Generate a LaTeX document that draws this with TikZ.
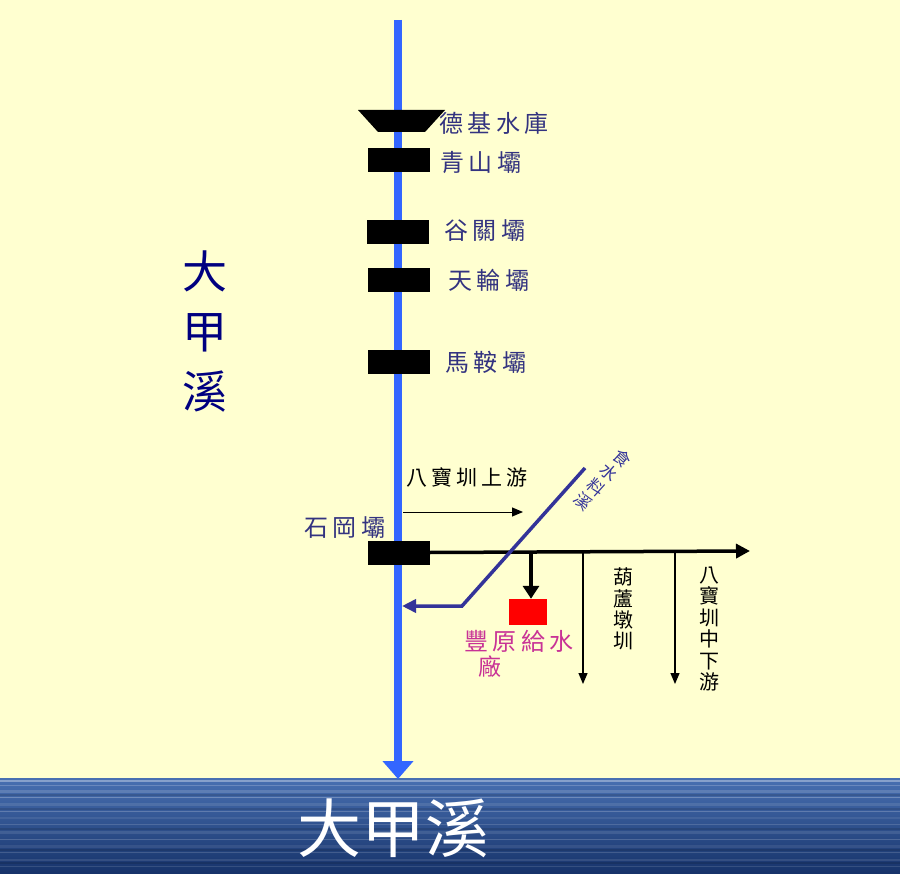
\documentclass[tikz,border=0pt]{standalone}
\usepackage{fontspec}
\newfontfamily\cjk[LetterSpace=18]{Noto Sans CJK TC}
\newfontfamily\cjkplain{Noto Sans CJK TC}
\usetikzlibrary{arrows.meta}
\definecolor{paper}{RGB}{255,255,208}
\definecolor{riverblue}{RGB}{51,102,255}
\definecolor{navy}{RGB}{51,51,128}
\definecolor{deepnavy}{RGB}{0,0,128}
\definecolor{creekblue}{RGB}{51,51,153}
\definecolor{plantpink}{RGB}{200,50,150}
\definecolor{seatop}{RGB}{72,112,178}
\definecolor{seabot}{RGB}{22,50,105}
\begin{document}
\begin{tikzpicture}[x=1pt,y=-1pt,
    dam/.style={fill=black, minimum width=62pt, minimum height=24pt, inner sep=0pt},
    damlabel/.style={text=navy, font=\cjk\fontsize{24}{24}\selectfont, inner sep=0pt},
    canallabel/.style={text=black, font=\cjk\fontsize{21}{21}\selectfont, inner sep=0pt},
    stacklabel/.style={text=black, align=center, inner sep=0pt, font=\cjkplain\fontsize{20}{21.4}\selectfont},
    canal/.style={line width=1.3pt, -{Triangle[length=11pt,width=9pt]}}]
    % background and sea
    \useasboundingbox (0,0) rectangle (900,874);
    \fill[paper] (0,0) rectangle (900,874);
    \shade[top color=seatop, bottom color=seabot] (0,778) rectangle (900,874);
    \foreach \y/\h/\o in {780/2/0.35,785/1/0.2,790/2.5/0.15,797/1/0.25,803/3/0.1,811/1.2/0.2,817/2/0.08,824/1/0.15,831/2.5/0.1,839/1/0.18,845/3/0.08,852/1.2/0.15,859/2/0.1,866/1/0.12}
        \fill[white, opacity=\o] (0,\y) rectangle (900,\y+\h);
    \foreach \y/\h in {794/2,808/1.5,828/2,849/1.5,862/2}
        \fill[black, opacity=0.12] (0,\y) rectangle (900,\y+\h);

    % main river
    \coordinate (source) at (398,20);
    \coordinate (mouth) at (398,779);
    \draw[riverblue, line width=8pt, -{Triangle[length=18pt,width=30pt]}] (source) -- (mouth);

    % reservoir and dams
    \fill (358,110) -- (445,110) -- (425,132) -- (378,132) -- cycle;
    \coordinate (deji) at (401,121);
    \node[dam] (qingshan) at (399,160) {};
    \node[dam] (guguan) at (398,232.5) {};
    \node[dam] (tianlun) at (399,280) {};
    \node[dam] (maan) at (399,362.5) {};
    \node[dam] (shigang) at (399,552.5) {};

    \node[damlabel] (dejilabel) at (494,123) {德基水庫};
    \node[damlabel] (qingshanlabel) at (481,163) {青山壩};
    \node[damlabel] (guguanlabel) at (485,231) {谷關壩};
    \node[damlabel] (tianlunlabel) at (489,280) {天輪壩};
    \node[damlabel] (maanlabel) at (486,362) {馬鞍壩};
    \node[damlabel] (shiganglabel) at (345,528) {石岡壩};

    % canals
    \coordinate (canalend) at (750,551);
    \draw[line width=3.5pt, -{Triangle[length=14pt,width=14pt]}] (shigang.east) -- (canalend);
    \coordinate (upstart) at (403,512);
    \coordinate (upend) at (523,512);
    \draw[canal, line width=1pt] (upstart) -- (upend);
    \node[canallabel] (uplabel) at (467,477) {八寶圳上游};

    \coordinate (plantjunc) at (531,551);
    \node[fill=red, minimum width=38pt, minimum height=26pt, inner sep=0pt] (plant) at (528,612) {};
    \draw[line width=3.5pt, -{Triangle[length=13pt,width=16pt]}] (plantjunc) -- (plantjunc |- plant.north);
    \node[text=plantpink, font=\cjk\fontsize{24}{24}\selectfont, inner sep=0pt] (plantlabel) at (519,641) {豐原給水};
    \node[text=plantpink, font=\cjkplain\fontsize{23}{23}\selectfont, inner sep=0pt] (plantlabel2) at (490,667) {廠};

    \coordinate (hulujunc) at (583,551);
    \coordinate (huluend) at (583,684);
    \draw[canal] (hulujunc) -- (huluend);
    \node[stacklabel] (hululabel) at (623,609) {葫\\蘆\\墩\\圳};

    \coordinate (lowerjunc) at (675,551);
    \coordinate (lowerend) at (675,684);
    \draw[canal] (lowerjunc) -- (lowerend);
    \node[stacklabel] (lowerlabel) at (709,629) {八\\寶\\圳\\中\\下\\游};

    % tributary
    \coordinate (creektop) at (585,468);
    \coordinate (creekbend) at (462,606);
    \coordinate (creekmouth) at (402,606);
    \draw[creekblue, line width=3.5pt, -{Triangle[length=14pt,width=13pt]}] (creektop) -- (creekbend) -- (creekmouth);
    \node[text=creekblue, align=center, inner sep=0pt, rotate=-42,
          font=\cjkplain\fontsize{17}{19.4}\selectfont] (creeklabel) at (603,480) {食\\水\\料\\溪};

    % river names
    \node[text=deepnavy, align=center, inner sep=0pt,
          font=\cjkplain\fontsize{45}{60}\selectfont] (rivername) at (205,332) {大\\甲\\溪};
    \node[text=white, inner sep=0pt, font=\cjkplain\fontsize{64}{64}\selectfont] (seaname) at (393,828) {大甲溪};
\end{tikzpicture}
\end{document}
